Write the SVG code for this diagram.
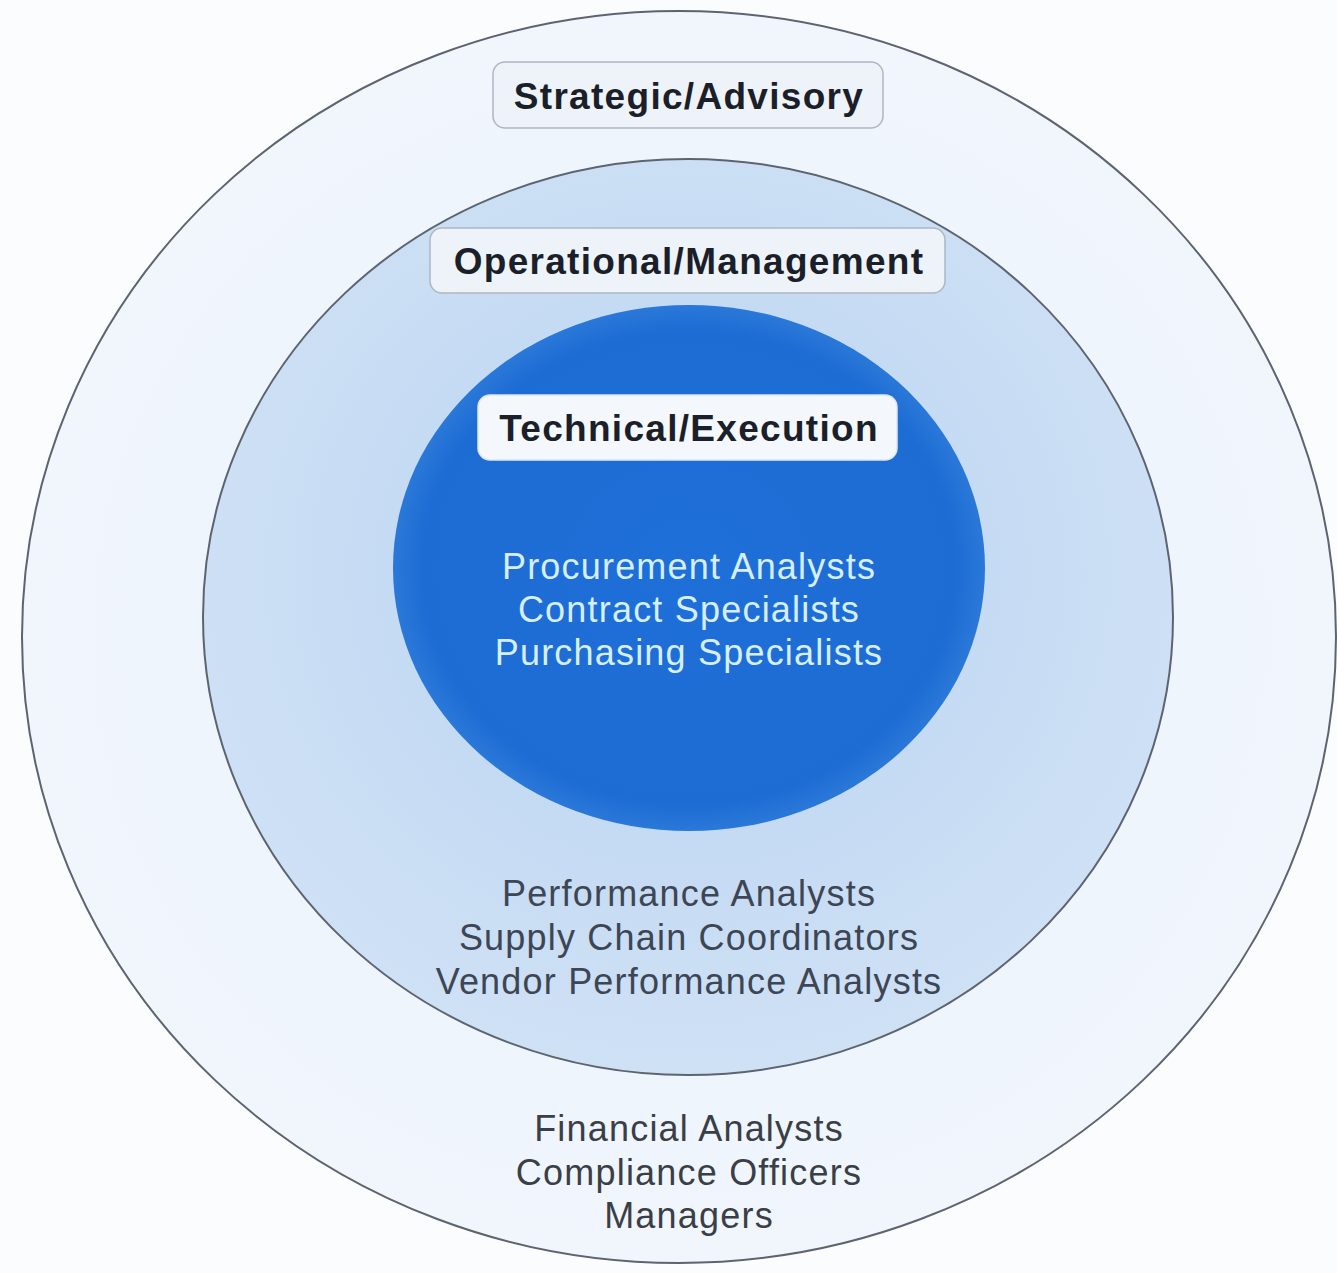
<svg xmlns="http://www.w3.org/2000/svg" width="1337" height="1273" viewBox="0 0 1337 1273">
<defs>
<radialGradient id="gOuter" cx="0.5" cy="0.5" r="0.5">
<stop offset="0" stop-color="#eaf2fc"/>
<stop offset="1" stop-color="#f1f6fd"/>
</radialGradient>
<radialGradient id="gMid" cx="0.5" cy="0.45" r="0.55">
<stop offset="0" stop-color="#b9d3f1"/>
<stop offset="1" stop-color="#cfe1f5"/>
</radialGradient>
<radialGradient id="gInner" cx="0.5" cy="0.5" r="0.5">
<stop offset="0" stop-color="#1f6fd8"/>
<stop offset="0.9" stop-color="#1d6cd4"/>
<stop offset="1" stop-color="#2a78d8"/>
</radialGradient>
</defs>
<style>
.ring{stroke:#5c6470;stroke-width:2}
.lbl{fill:#eef3f9;stroke:#aeb6c2;stroke-width:1.5}
.lblw{fill:#f4f7fb;stroke:#dbe6f3;stroke-width:1.5}
.title{font-family:"Liberation Sans",Arial,sans-serif;font-weight:bold;font-size:37px;letter-spacing:1.3px;fill:#1b1f29;text-anchor:middle}
.role{font-family:"Liberation Sans",Arial,sans-serif;font-size:36px;letter-spacing:1.2px;text-anchor:middle}
.inner{fill:#d6efff}
.mid{fill:#3d4654}
.out{fill:#3a3f47}
</style>
<rect width="1337" height="1273" fill="#fbfcfe"/>
<g id="outer-ring">
<ellipse cx="679" cy="637" rx="657" ry="626" fill="url(#gOuter)" class="ring"/>
</g>
<g id="middle-ring">
<ellipse cx="688" cy="617" rx="485" ry="458" fill="url(#gMid)" class="ring"/>
</g>
<g id="inner-ring">
<ellipse cx="689" cy="568" rx="296" ry="263" fill="url(#gInner)"/>
</g>
<g id="label-strategic">
<rect x="493" y="62" width="390" height="66" rx="12" class="lbl"/>
<text x="689" y="109" class="title">Strategic/Advisory</text>
</g>
<g id="label-operational">
<rect x="430" y="228" width="515" height="65" rx="12" class="lbl"/>
<text x="689" y="274" class="title">Operational/Management</text>
</g>
<g id="label-technical">
<rect x="478" y="395" width="419" height="65" rx="12" class="lblw"/>
<text x="689" y="441" class="title">Technical/Execution</text>
</g>
<g id="roles-technical">
<text x="689" y="579" class="role inner">Procurement Analysts</text>
<text x="689" y="622" class="role inner">Contract Specialists</text>
<text x="689" y="665" class="role inner">Purchasing Specialists</text>
</g>
<g id="roles-operational">
<text x="689" y="906" class="role mid">Performance Analysts</text>
<text x="689" y="950" class="role mid">Supply Chain Coordinators</text>
<text x="689" y="994" class="role mid">Vendor Performance Analysts</text>
</g>
<g id="roles-strategic">
<text x="689" y="1141" class="role out">Financial Analysts</text>
<text x="689" y="1185" class="role out">Compliance Officers</text>
<text x="689" y="1228" class="role out">Managers</text>
</g>
<g id="connectors"/>
</svg>
